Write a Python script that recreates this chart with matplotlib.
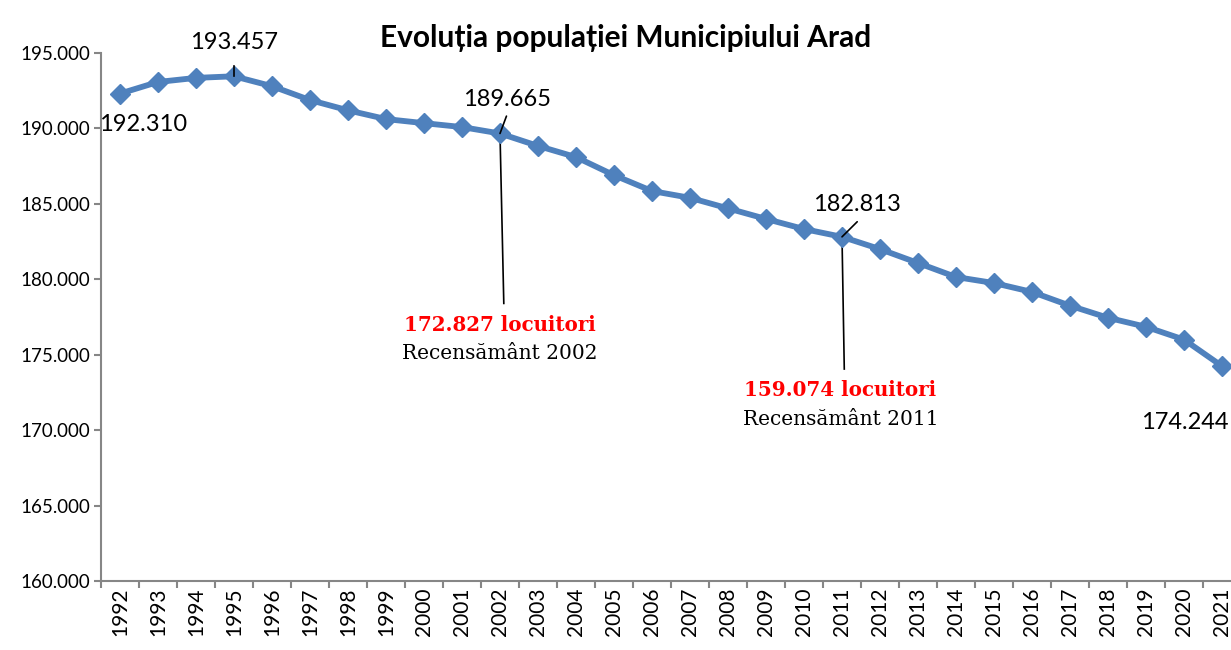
import matplotlib
matplotlib.use("Agg")
import matplotlib.pyplot as plt
from matplotlib.ticker import FixedLocator, FuncFormatter

years = list(range(1992, 2022))
population = [192310, 193080, 193350, 193457, 192800, 191880, 191200, 190620,
              190350, 190090, 189665, 188840, 188100, 186900, 185850, 185400,
              184700, 184000, 183330, 182813, 182000, 181080, 180150, 179750,
              179160, 178250, 177450, 176850, 176000, 174244]
title = "Evoluția populației Municipiului Arad"
labeled = {1992: "192.310", 1995: "193.457", 2002: "189.665", 2011: "182.813", 2021: "174.244"}
census_years = [2002, 2011]
census_values = ["172.827 locuitori", "159.074 locuitori"]
census_labels = ["Recensământ 2002", "Recensământ 2011"]

W, H = 1231, 650
fig = plt.figure(figsize=(W / 100, H / 100), dpi=100)
# axes in pixel coordinates: left 101, right 1241 (beyond figure), top 53, bottom 581
L, R, T, B = 101, 1241, 53, 581
ax = fig.add_axes([L / W, 1 - B / H, (R - L) / W, (B - T) / H])

x = list(range(len(years)))
blue = "#4F81BD"
ax.plot(x, population, color=blue, lw=4.2, marker="D", ms=10, mfc=blue, mec=blue,
        clip_on=False, zorder=3)

ax.set_xlim(-0.5, len(years) - 0.5)
ax.set_ylim(160000, 195000)
ax.yaxis.set_major_locator(FixedLocator(list(range(160000, 195001, 5000))))
ax.yaxis.set_major_formatter(FuncFormatter(lambda v, p: f"{int(v):,}".replace(",", ".")))
ax.xaxis.set_major_locator(FixedLocator([i - 0.5 for i in range(len(years) + 1)]))
ax.xaxis.set_major_formatter(FuncFormatter(lambda v, p: ""))
ax.xaxis.set_minor_locator(FixedLocator(x))
ax.xaxis.set_minor_formatter(FuncFormatter(lambda v, p: str(years[int(round(v))]) if 0 <= int(round(v)) < len(years) else ""))

gray = "#868686"
for s in ["top", "right"]:
    ax.spines[s].set_visible(False)
for s in ["left", "bottom"]:
    ax.spines[s].set_color(gray)
    ax.spines[s].set_linewidth(1.5)
ax.tick_params(axis="both", which="major", direction="out", length=5, width=1.5, color=gray)
ax.tick_params(axis="x", which="minor", length=0, labelrotation=90, labelsize=15, pad=5)
ax.tick_params(axis="y", labelsize=13.5, pad=3)
for lab in ax.get_xticklabels(minor=True) + ax.get_yticklabels():
    lab.set_fontfamily("Lato")

ax.set_title(title, fontsize=21.5, fontweight="bold", fontfamily="Lato", pad=4, x=0.46)

lab_font = dict(fontsize=17, fontfamily="Lato", color="black")
def yr(y):
    return years.index(y)

# data labels
ax.annotate(labeled[1992], (yr(1992), population[yr(1992)]), xytext=(23, -31),
            textcoords="offset pixels", ha="center", va="center", **lab_font)
ax.annotate(labeled[1995], (yr(1995), population[yr(1995)]), xytext=(0, 34),
            textcoords="offset pixels", ha="center", va="center", **lab_font)
ax.plot([yr(1995), yr(1995)], [population[yr(1995)] - 0, population[yr(1995)] + 700],
        color="black", lw=1.2, zorder=4)
ax.annotate(labeled[2002], (yr(2002), population[yr(2002)]), xytext=(7, 34),
            textcoords="offset pixels", ha="center", va="center", **lab_font)
ax.annotate("", (yr(2002), population[yr(2002)]), xytext=(yr(2002) + 0.17, population[yr(2002)] + 1150),
            arrowprops=dict(arrowstyle="-", color="black", lw=1.2, shrinkA=0, shrinkB=0))
ax.annotate(labeled[2011], (yr(2011), population[yr(2011)]), xytext=(15, 32),
            textcoords="offset pixels", ha="center", va="center", **lab_font)
ax.annotate("", (yr(2011), population[yr(2011)]), xytext=(yr(2011) + 0.4, population[yr(2011)] + 1000),
            arrowprops=dict(arrowstyle="-", color="black", lw=1.2, shrinkA=0, shrinkB=0))
ax.annotate(labeled[2021], (yr(2021), population[yr(2021)]), xytext=(-37, -56),
            textcoords="offset pixels", ha="center", va="center", **lab_font)

# census annotations
for cy, cv, cl, line_end in zip(census_years, census_values, census_labels,
                                [(0.1, 178400), (0.06, 174050)]):
    i = yr(cy)
    ax.plot([i, i + line_end[0]], [population[i], line_end[1]], color="black", lw=1.2, zorder=2)
    ax.text(i + line_end[0] - 0.1, line_end[1] - 1400, cv, ha="center", va="center",
            fontsize=14.3, fontweight="bold", color="red", fontfamily="DejaVu Serif")
    ax.text(i + line_end[0] - 0.1, line_end[1] - 3350, cl, ha="center", va="center",
            fontsize=14.5, color="black", fontfamily="DejaVu Serif")

fig.savefig("out.png", dpi=100)
